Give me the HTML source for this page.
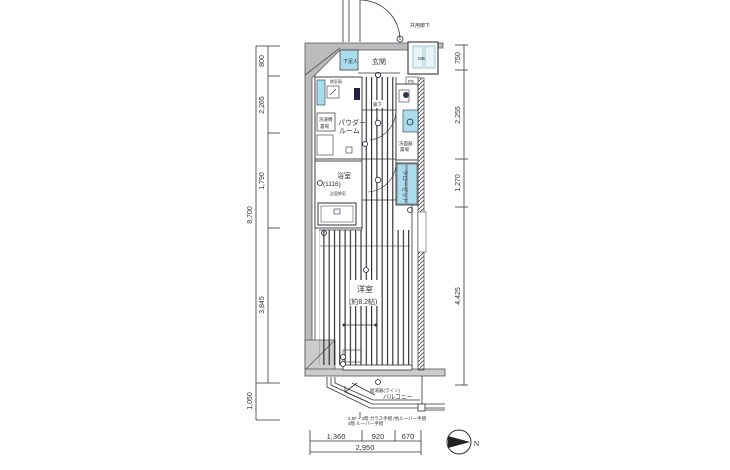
<!DOCTYPE html>
<html><head><meta charset="utf-8"><style>
html,body{margin:0;padding:0;background:#fff}
svg{display:block}
text{font-family:"Liberation Sans","Noto Sans CJK JP",sans-serif;fill:#333}
</style></head><body>
<svg width="730" height="470" viewBox="0 0 730 470" xmlns="http://www.w3.org/2000/svg">
<defs>
<pattern id="hatch" width="4" height="4" patternUnits="userSpaceOnUse"><path d="M0,4 L4,0" stroke="#444" stroke-width="0.8"/></pattern>
<pattern id="vl" width="5.3" height="10" patternUnits="userSpaceOnUse"><line x1="0.6" y1="0" x2="0.6" y2="10" stroke="#222" stroke-width="1.1"/></pattern>
</defs>

<!-- left dimensions -->
<g stroke="#333" stroke-width="0.8" fill="none">
<line x1="256" y1="46" x2="256" y2="420"/>
<line x1="268" y1="46" x2="268" y2="383"/>
<line x1="256" y1="46" x2="280" y2="46"/>
<line x1="268" y1="76" x2="280" y2="76"/>
<line x1="268" y1="133" x2="280" y2="133"/>
<line x1="268" y1="228" x2="280" y2="228"/>
<line x1="256" y1="383" x2="280" y2="383"/>
<line x1="256" y1="420" x2="280" y2="420"/>
</g>
<g font-size="7">
<text transform="translate(264,61) rotate(-90)" text-anchor="middle">800</text>
<text transform="translate(264,105) rotate(-90)" text-anchor="middle">2,265</text>
<text transform="translate(264,181) rotate(-90)" text-anchor="middle">1,790</text>
<text transform="translate(264,305) rotate(-90)" text-anchor="middle">3,845</text>
<text transform="translate(252,215) rotate(-90)" text-anchor="middle">8,700</text>
<text transform="translate(252,401) rotate(-90)" text-anchor="middle">1,050</text>
</g>

<!-- right dimensions -->
<g stroke="#333" stroke-width="0.8" fill="none">
<line x1="464" y1="45" x2="464" y2="385"/>
<line x1="455" y1="45" x2="468" y2="45"/>
<line x1="455" y1="70" x2="468" y2="70"/>
<line x1="455" y1="159" x2="468" y2="159"/>
<line x1="455" y1="207" x2="468" y2="207"/>
<line x1="455" y1="385" x2="468" y2="385"/>
</g>
<g font-size="7">
<text transform="translate(460,58) rotate(-90)" text-anchor="middle">750</text>
<text transform="translate(460,115) rotate(-90)" text-anchor="middle">2,255</text>
<text transform="translate(460,183) rotate(-90)" text-anchor="middle">1,270</text>
<text transform="translate(460,296) rotate(-90)" text-anchor="middle">4,425</text>
</g>

<!-- bottom dimensions -->
<g stroke="#333" stroke-width="0.8" fill="none">
<line x1="310" y1="441" x2="421" y2="441"/>
<line x1="310" y1="452" x2="421" y2="452"/>
<line x1="310" y1="430" x2="310" y2="455"/>
<line x1="362" y1="430" x2="362" y2="441"/>
<line x1="395" y1="430" x2="395" y2="441"/>
<line x1="421" y1="430" x2="421" y2="455"/>
</g>
<g font-size="7.5" text-anchor="middle">
<text x="336" y="439">1,360</text>
<text x="378" y="439">920</text>
<text x="408" y="439">670</text>
<text x="365" y="450">2,950</text>
</g>

<!-- compass -->
<circle cx="459" cy="442" r="12" fill="#fff" stroke="#333" stroke-width="1"/>
<polygon points="448,436 470,442 448,448" fill="#222"/>
<text x="474" y="446" font-size="7">N</text>

<!-- outer walls -->
<polygon points="305,43 443,43 443,48 412,48 412,50 340,50 312,78 312,370 305,370" fill="#bbb" stroke="#555" stroke-width="0.8"/>
<polygon points="305,340 335,340 335,370 305,370" fill="#ccc" stroke="#555" stroke-width="0.8"/>
<line x1="305" y1="370" x2="335" y2="340" stroke="#555" stroke-width="0.8"/>
<line x1="305" y1="75" x2="340" y2="48" stroke="#555" stroke-width="0.8"/>
<rect x="305" y="369" width="140" height="7" fill="#ccc" stroke="#555" stroke-width="0.8"/>
<rect x="418" y="78" width="6" height="292" fill="url(#hatch)" stroke="#555" stroke-width="0.8"/>
<line x1="315" y1="75" x2="315" y2="340" stroke="#444" stroke-width="0.8"/>

<!-- door at top -->
<g stroke="#333" stroke-width="0.8" fill="none">
<line x1="343" y1="0" x2="343" y2="42"/>
<line x1="349" y1="0" x2="349" y2="42"/>
<line x1="360" y1="0" x2="360" y2="42"/>
<path d="M360,0 A40,40 0 0 1 400,40"/>
<circle cx="400" cy="39" r="3" stroke="#224"/>
</g>
<text x="410" y="27" font-size="5">共用廊下</text>

<!-- top right PS/MB box -->
<rect x="408" y="42" width="30" height="32" fill="#fff" stroke="#444" stroke-width="1.2"/>
<rect x="413" y="46" width="10" height="22" fill="#e6f4f8" stroke="#6ab" stroke-width="0.6"/>
<rect x="425" y="46" width="10" height="22" fill="#e6f4f8" stroke="#6ab" stroke-width="0.6"/>
<text x="418" y="60" font-size="4.5">MB</text>
<rect x="406" y="77" width="12" height="7" fill="#fff" stroke="#444" stroke-width="0.6"/>
<text x="408" y="83" font-size="4.5">PS</text>

<!-- entrance -->
<rect x="340" y="50" width="18" height="20" fill="#a9dcec" stroke="#444" stroke-width="0.8"/>
<text x="343" y="63" font-size="5">下足入</text>
<text x="372" y="64" font-size="7">玄関</text>
<line x1="358" y1="73" x2="400" y2="73" stroke="#333" stroke-width="0.8"/>
<circle cx="378" cy="75" r="2.5" fill="none" stroke="#224" stroke-width="1"/>

<!-- corridor flooring -->
<rect x="362" y="77" width="34" height="123" fill="url(#vl)"/>
<g stroke="#333" stroke-width="0.8" fill="none">
<line x1="362" y1="77" x2="362" y2="200"/>
<line x1="396" y1="77" x2="396" y2="200"/>
<line x1="362" y1="110" x2="396" y2="110"/>
<line x1="362" y1="159" x2="396" y2="159"/>
<line x1="362" y1="200" x2="418" y2="200"/>
</g>
<rect x="372" y="100" width="12" height="8" fill="#fff"/>
<text x="373" y="106" font-size="4.5">廊下</text>
<circle cx="378" cy="123" r="2.8" fill="#fff" stroke="#224" stroke-width="0.8"/>
<circle cx="378" cy="180" r="2.8" fill="#fff" stroke="#224" stroke-width="0.8"/>
<path d="M396,110 A30,30 0 0 1 370,140" fill="none" stroke="#333" stroke-width="0.6"/>
<path d="M396,165 A30,30 0 0 1 368,192" fill="none" stroke="#333" stroke-width="0.6"/>

<!-- powder room -->
<rect x="315" y="77" width="47" height="82" fill="#fff" stroke="#333" stroke-width="0.9"/>
<rect x="317" y="80" width="8" height="25" fill="#a9dcec" stroke="#335" stroke-width="0.6"/>
<rect x="327" y="86" width="12" height="12" fill="#fff" stroke="#333" stroke-width="0.6"/>
<line x1="330" y1="95" x2="336" y2="89" stroke="#333" stroke-width="0.6"/>
<rect x="354" y="88" width="6" height="12" fill="#224"/>
<text x="330" y="83" font-size="4">換気扇</text>
<rect x="317" y="113" width="18" height="18" fill="#fff" stroke="#333" stroke-width="0.7"/>
<text x="319" y="121" font-size="4.5">洗濯機</text>
<text x="320" y="128" font-size="4.5">置場</text>
<text x="338" y="125" font-size="7">パウダー</text>
<text x="339" y="133" font-size="7">ルーム</text>
<rect x="317" y="135" width="16" height="20" fill="#fff" stroke="#333" stroke-width="0.6"/>
<rect x="346" y="147" width="6" height="6" fill="#fff" stroke="#333" stroke-width="0.6"/>
<circle cx="365" cy="144" r="2.5" fill="#fff" stroke="#224" stroke-width="0.8"/>

<!-- bathroom -->
<rect x="315" y="161" width="47" height="67" fill="#fff" stroke="#333" stroke-width="0.9"/>
<text x="337" y="178" font-size="7">浴室</text>
<text x="323" y="186" font-size="6.5">(1116)</text>
<circle cx="320" cy="183" r="2.5" fill="#fff" stroke="#224" stroke-width="0.8"/>
<text x="330" y="195" font-size="4">浴室換気</text>
<rect x="318" y="203" width="38" height="22" fill="#fff" stroke="#333" stroke-width="1"/>
<rect x="321" y="206" width="32" height="16" fill="#fff" stroke="#333" stroke-width="0.5"/>
<rect x="334" y="209" width="6" height="5" fill="none" stroke="#224" stroke-width="0.6"/>
<circle cx="324" cy="233" r="2.5" fill="#fff" stroke="#224" stroke-width="0.8"/>

<!-- right side rooms -->
<rect x="396" y="84" width="22" height="76" fill="#fff" stroke="#333" stroke-width="0.9"/>
<rect x="399" y="90" width="10" height="12" fill="#fff" stroke="#333" stroke-width="0.6"/>
<circle cx="406" cy="95" r="3" fill="#335"/>
<rect x="403" y="110" width="15" height="22" fill="#a9dcec" stroke="#335" stroke-width="0.6"/>
<circle cx="410" cy="122" r="3" fill="none" stroke="#224" stroke-width="0.8"/>
<text x="399" y="145" font-size="4.5">洗面器</text>
<text x="400" y="151" font-size="4.5">置場</text>
<rect x="396" y="163" width="22" height="42" fill="#fff" stroke="#333" stroke-width="0.9"/>
<rect x="397" y="164" width="9" height="40" fill="#a9dcec" stroke="#335" stroke-width="0.5"/>
<rect x="407" y="164" width="10" height="40" fill="#a9dcec" stroke="#335" stroke-width="0.5"/>
<text transform="translate(403,170) rotate(90)" font-size="5.5">クローゼット</text>
<circle cx="410" cy="210" r="2.5" fill="#fff" stroke="#224" stroke-width="0.8"/>

<!-- western room -->
<rect x="319" y="230" width="93" height="135" fill="url(#vl)"/>
<rect x="362" y="200" width="34" height="30" fill="url(#vl)"/>
<line x1="319" y1="230" x2="362" y2="230" stroke="#333" stroke-width="0.8"/>
<line x1="362" y1="200" x2="362" y2="230" stroke="#333" stroke-width="0.8"/>
<line x1="412" y1="205" x2="412" y2="368" stroke="#333" stroke-width="0.8"/>
<line x1="320" y1="246" x2="410" y2="246" stroke="#333" stroke-width="0.5"/>
<rect x="350" y="280" width="30" height="26" fill="#fff"/>
<text x="357" y="292" font-size="8">洋室</text>
<text x="349" y="304" font-size="7">(約8.2帖)</text>
<circle cx="366" cy="270" r="2.5" fill="#fff" stroke="#224" stroke-width="0.8"/>
<line x1="344" y1="325" x2="376" y2="325" stroke="#333" stroke-width="0.7"/>
<circle cx="344" cy="325" r="1.5" fill="#333"/><circle cx="376" cy="325" r="1.5" fill="#333"/>
<rect x="343" y="365" width="69" height="5" fill="#fff" stroke="#333" stroke-width="0.8"/>
<rect x="343" y="350" width="18" height="12" fill="none" stroke="#335" stroke-width="0.6"/>
<circle cx="343" cy="357" r="2.5" fill="#fff" stroke="#224" stroke-width="0.8"/>
<circle cx="343" cy="364" r="2.5" fill="#fff" stroke="#224" stroke-width="0.8"/>
<rect x="418" y="212" width="8" height="40" fill="#fff" stroke="#333" stroke-width="0.5"/>

<!-- balcony -->
<g stroke="#333" stroke-width="0.8" fill="none">
<polyline points="327,377 327,387 370,408 445,408"/>
<polyline points="331,377 331,385 372,404 445,404"/>
<polyline points="335,377 335,383 373,400 420,400"/>
<line x1="422" y1="376" x2="422" y2="406"/>
<rect x="418" y="404" width="7" height="7" fill="#fff"/>
<line x1="425" y1="410" x2="445" y2="410"/>
<line x1="352" y1="383" x2="375" y2="395"/>
<line x1="345" y1="392" x2="357" y2="383"/>
<polyline points="345,386 345,392 368,402"/>
<line x1="360" y1="412" x2="360" y2="418"/>
</g>
<circle cx="378" cy="382" r="2.5" fill="#fff" stroke="#224" stroke-width="0.8"/>
<text x="370" y="392" font-size="4.5">給湯器(ライン)</text>
<text x="383" y="399" font-size="6">バルコニー</text>
<text x="348" y="420" font-size="4.5">2,5F・3階 ガラス手摺 /他ルーバー手摺</text>
<text x="348" y="425" font-size="4.5">4階 ルーバー手摺</text>
</svg>
</body></html>
